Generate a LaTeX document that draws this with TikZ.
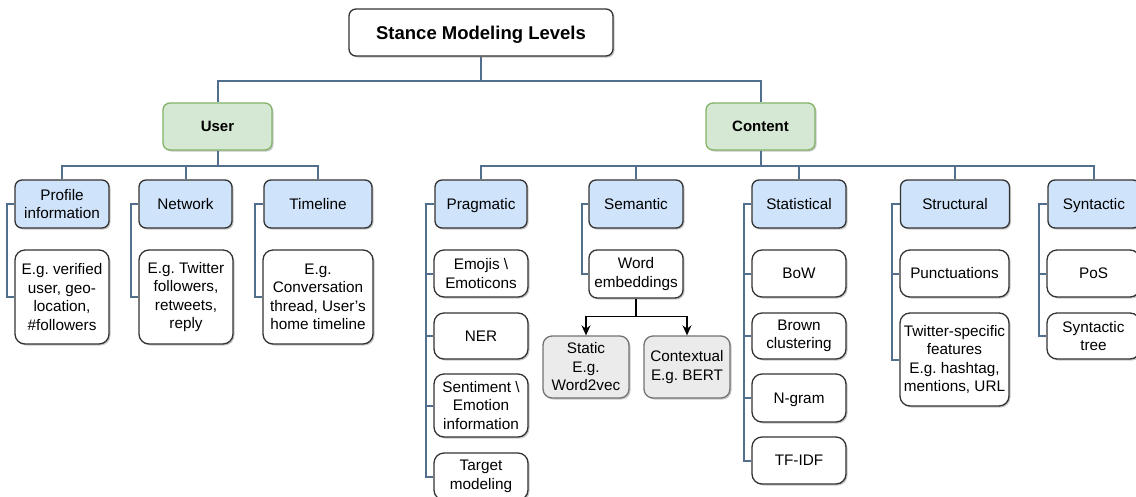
\documentclass[tikz,border=0pt]{standalone}
\usepackage{fontspec}
\setmainfont{Liberation Sans}
\frenchspacing
\usetikzlibrary{arrows.meta,shadows}
\definecolor{conn}{HTML}{52708D}
\definecolor{bluefill}{HTML}{CFE3FA}
\definecolor{greenfill}{HTML}{D5E8D4}
\definecolor{greenline}{HTML}{82B366}
\definecolor{grayfill}{HTML}{EBEBEB}
\definecolor{darkline}{HTML}{333333}
\tikzset{
  base/.style={draw=darkline, line width=1.3pt, align=center, inner sep=0pt,
    font=\fontsize{15.3}{18.5}\selectfont\frenchspacing,
    drop shadow={shadow xshift=1.5pt, shadow yshift=-1.5pt, opacity=0.22, fill=black}},
  one/.style={text height=11pt, text depth=0.3pt},
  rootbox/.style={base, fill=white, rounded corners=7pt, font=\fontsize{18.5}{22}\selectfont\bfseries},
  catbox/.style={base, draw=greenline, fill=greenfill, rounded corners=7pt, font=\fontsize{15}{18.5}\selectfont\bfseries},
  levelbox/.style={base, fill=bluefill, rounded corners=7pt},
  leafbox/.style={base, fill=white, rounded corners=10pt},
  graybox/.style={base, draw=gray!90!black, fill=grayfill, rounded corners=9pt},
  link/.style={draw=conn, line width=2pt},
  arr/.style={draw=black, line width=1.4pt, -{Stealth[length=10pt,width=9pt]}},
}
\begin{document}
\begin{tikzpicture}[x=1pt, y=-1pt]
\clip (0,0) rectangle (1136,496);
\fill[white] (0,0) rectangle (1136,496);
% root and categories
\node[rootbox, text height=13.5pt, text depth=0.3pt, minimum width=264pt, minimum height=47pt] (root) at (481,32.5) {Stance Modeling Levels};
\node[catbox, one, minimum width=109pt, minimum height=47pt] (user) at (217.5,126.5) {User};
\node[catbox, one, minimum width=109pt, minimum height=47pt] (content) at (760.5,126.5) {Content};
% level 2
\node[levelbox, minimum width=94pt, minimum height=48pt] (profile) at (62,204) {Profile\\information};
\node[levelbox, one, minimum width=93pt, minimum height=48pt] (network) at (185.5,204) {Network};
\node[levelbox, one, minimum width=108pt, minimum height=48pt] (timeline) at (318,204) {Timeline};
\node[levelbox, one, minimum width=92pt, minimum height=48pt] (pragmatic) at (481,204) {Pragmatic};
\node[levelbox, one, minimum width=94pt, minimum height=48pt] (semantic) at (636,204) {Semantic};
\node[levelbox, one, minimum width=94pt, minimum height=48pt] (statistical) at (799,204) {Statistical};
\node[levelbox, one, minimum width=109pt, minimum height=48pt] (structural) at (955,204) {Structural};
\node[levelbox, one, minimum width=92pt, minimum height=48pt] (syntactic) at (1094,204) {Syntactic};
% user leaves
\node[leafbox, minimum width=94pt, minimum height=94pt] (pleaf) at (62,297) {E.g. verified\\user, geo-\\location,\\\#followers};
\node[leafbox, minimum width=94pt, minimum height=94pt] (nleaf) at (186,297) {E.g. Twitter\\followers,\\retweets,\\reply};
\node[leafbox, minimum width=110pt, minimum height=94pt] (tleaf) at (318,297) {E.g.\\Conversation\\thread, User's\\home timeline};
% pragmatic leaves
\node[leafbox, minimum width=94pt, minimum height=47pt] (emo) at (481,273.5) {Emojis \textbackslash\\Emoticons};
\node[leafbox, one, minimum width=94pt, minimum height=46pt] (ner) at (481,336) {NER};
\node[leafbox, minimum width=94pt, minimum height=63pt] (senti) at (481,405.5) {Sentiment \textbackslash\\Emotion\\information};
\node[leafbox, minimum width=94pt, minimum height=47pt] (target) at (481,476.5) {Target\\modeling};
% semantic
\node[leafbox, rounded corners=8pt, minimum width=94pt, minimum height=48pt] (wemb) at (636,274) {Word\\embeddings};
\node[graybox, minimum width=86pt, minimum height=62pt] (static) at (586,367) {Static\\E.g.\\Word2vec};
\node[graybox, minimum width=86pt, minimum height=62pt] (contextual) at (687,367) {Contextual\\E.g. BERT};
% statistical
\node[leafbox, one, minimum width=94pt, minimum height=47pt] (bow) at (799,273.5) {BoW};
\node[leafbox, minimum width=94pt, minimum height=46pt] (brown) at (799,336) {Brown\\clustering};
\node[leafbox, one, minimum width=94pt, minimum height=48pt] (ngram) at (799,398) {N-gram};
\node[leafbox, one, minimum width=94pt, minimum height=47pt] (tfidf) at (799,460.5) {TF-IDF};
% structural
\node[leafbox, one, minimum width=109pt, minimum height=47pt] (punct) at (954.5,273.5) {Punctuations};
\node[leafbox, minimum width=109pt, minimum height=93pt] (twitter) at (954.5,359.5) {Twitter-specific\\features\\E.g. hashtag,\\mentions, URL};
% syntactic
\node[leafbox, one, minimum width=93pt, minimum height=47pt] (pos) at (1093.5,273.5) {PoS};
\node[leafbox, minimum width=93pt, minimum height=46pt] (stree) at (1093.5,336) {Syntactic\\tree};
% tree connectors
\path[link] (root.south) -- ++(0,24) -| (user.north);
\path[link] (root.south) -- ++(0,24) -| (content.north);
\foreach \c in {profile,network,timeline}
  \path[link] (user.south) -- ++(0,15.5) -| (\c.north);
\foreach \c in {pragmatic,semantic,statistical,structural,syntactic}
  \path[link] (content.south) -- ++(0,15.5) -| (\c.north);
% elbow connectors to leaves
\path[link] (profile.west) -- ++(-7,0) |- (pleaf.west);
\path[link] (network.west) -- ++(-7,0) |- (nleaf.west);
\path[link] (timeline.west) -- ++(-8,0) |- (tleaf.west);
\foreach \l in {emo,ner,senti,target}
  \path[link] (pragmatic.west) -- ++(-8,0) |- (\l.west);
\path[link] (semantic.west) -- ++(-6,0) |- (wemb.west);
\foreach \l in {bow,brown,ngram,tfidf}
  \path[link] (statistical.west) -- ++(-7.5,0) |- (\l.west);
\foreach \l in {punct,twitter}
  \path[link] (structural.west) -- ++(-7.5,0) |- (\l.west);
\foreach \l in {pos,stree}
  \path[link] (syntactic.west) -- ++(-8,0) |- (\l.west);
% arrows
\draw[arr] (wemb.south) -- ++(0,18) -| (static.north);
\draw[arr] (wemb.south) -- ++(0,18) -| (contextual.north);
\end{tikzpicture}
\end{document}
